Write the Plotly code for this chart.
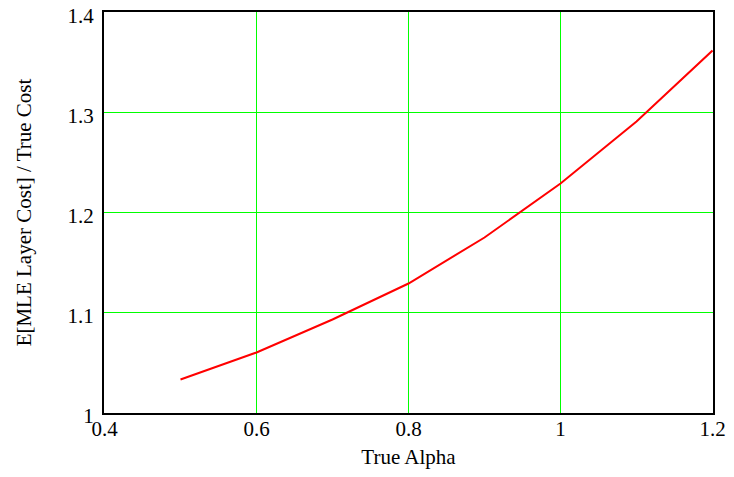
import plotly.graph_objects as go

alpha = [0.5, 0.6, 0.7, 0.8, 0.9, 1.0, 1.1, 1.2]
ratio = [1.033, 1.060, 1.093, 1.129, 1.175, 1.229, 1.291, 1.362]

x_ticks = [0.4, 0.6, 0.8, 1.0, 1.2]
x_tick_labels = ["0.4", "0.6", "0.8", "1", "1.2"]
y_ticks = [1.0, 1.1, 1.2, 1.3, 1.4]
y_tick_labels = ["1", "1.1", "1.2", "1.3", "1.4"]

FAMILY = "Liberation Serif, Times New Roman, serif"
tickfont = dict(family=FAMILY, size=21, color="black")
titlefont = dict(family=FAMILY, size=21, color="black")

# plot area: 609 x 401 px (152 px per 0.2 on x, 100 px per 0.1 on y);
# ranges padded by half a pixel on each side so 1px grid lines render crisp
X_PX_PER_UNIT, Y_PX_PER_UNIT = 760, 1000
PLOT_W, PLOT_H = 609, 401
dx = 0.5 / X_PX_PER_UNIT
dy = 0.5 / Y_PX_PER_UNIT

fig = go.Figure()
fig.add_trace(go.Scatter(x=alpha, y=ratio, mode="lines",
                         line=dict(color="#ff0000", width=2), showlegend=False))

# page body has an 8px margin, so the figure is sized/offset to compensate
W, H, L, T = 726, 461, 96, 4
fig.update_layout(
    width=W, height=H,
    margin=dict(l=L, r=W - L - PLOT_W, t=T, b=H - T - PLOT_H, autoexpand=False),
    paper_bgcolor="white", plot_bgcolor="white",
    font=dict(family=FAMILY, size=21, color="black"),
    xaxis=dict(range=[0.4 - dx, 1.2 + dx], tickmode="array",
               tickvals=x_ticks, ticktext=x_tick_labels,
               tickfont=tickfont, automargin=False, ticklabelstandoff=-4,
               ticklabeloverflow="allow",
               showgrid=True, gridcolor="rgb(0,255,0)", gridwidth=1,
               showline=True, linecolor="black", linewidth=2, mirror=True,
               zeroline=False, ticks="",
               title=dict(text="True Alpha", font=titlefont, standoff=21)),
    yaxis=dict(range=[1.0 - dy, 1.4 + dy], tickmode="array",
               tickvals=y_ticks, ticktext=y_tick_labels,
               tickfont=tickfont, automargin=False, ticklabelstandoff=4,
               ticklabelshift=3, ticklabeloverflow="allow",
               showgrid=True, gridcolor="rgb(0,255,0)", gridwidth=1,
               showline=True, linecolor="black", linewidth=2, mirror=True,
               zeroline=False, ticks="",
               title=dict(text="E[MLE Layer Cost] / True Cost", font=titlefont, standoff=30)),
)
fig.write_html("out.html")
